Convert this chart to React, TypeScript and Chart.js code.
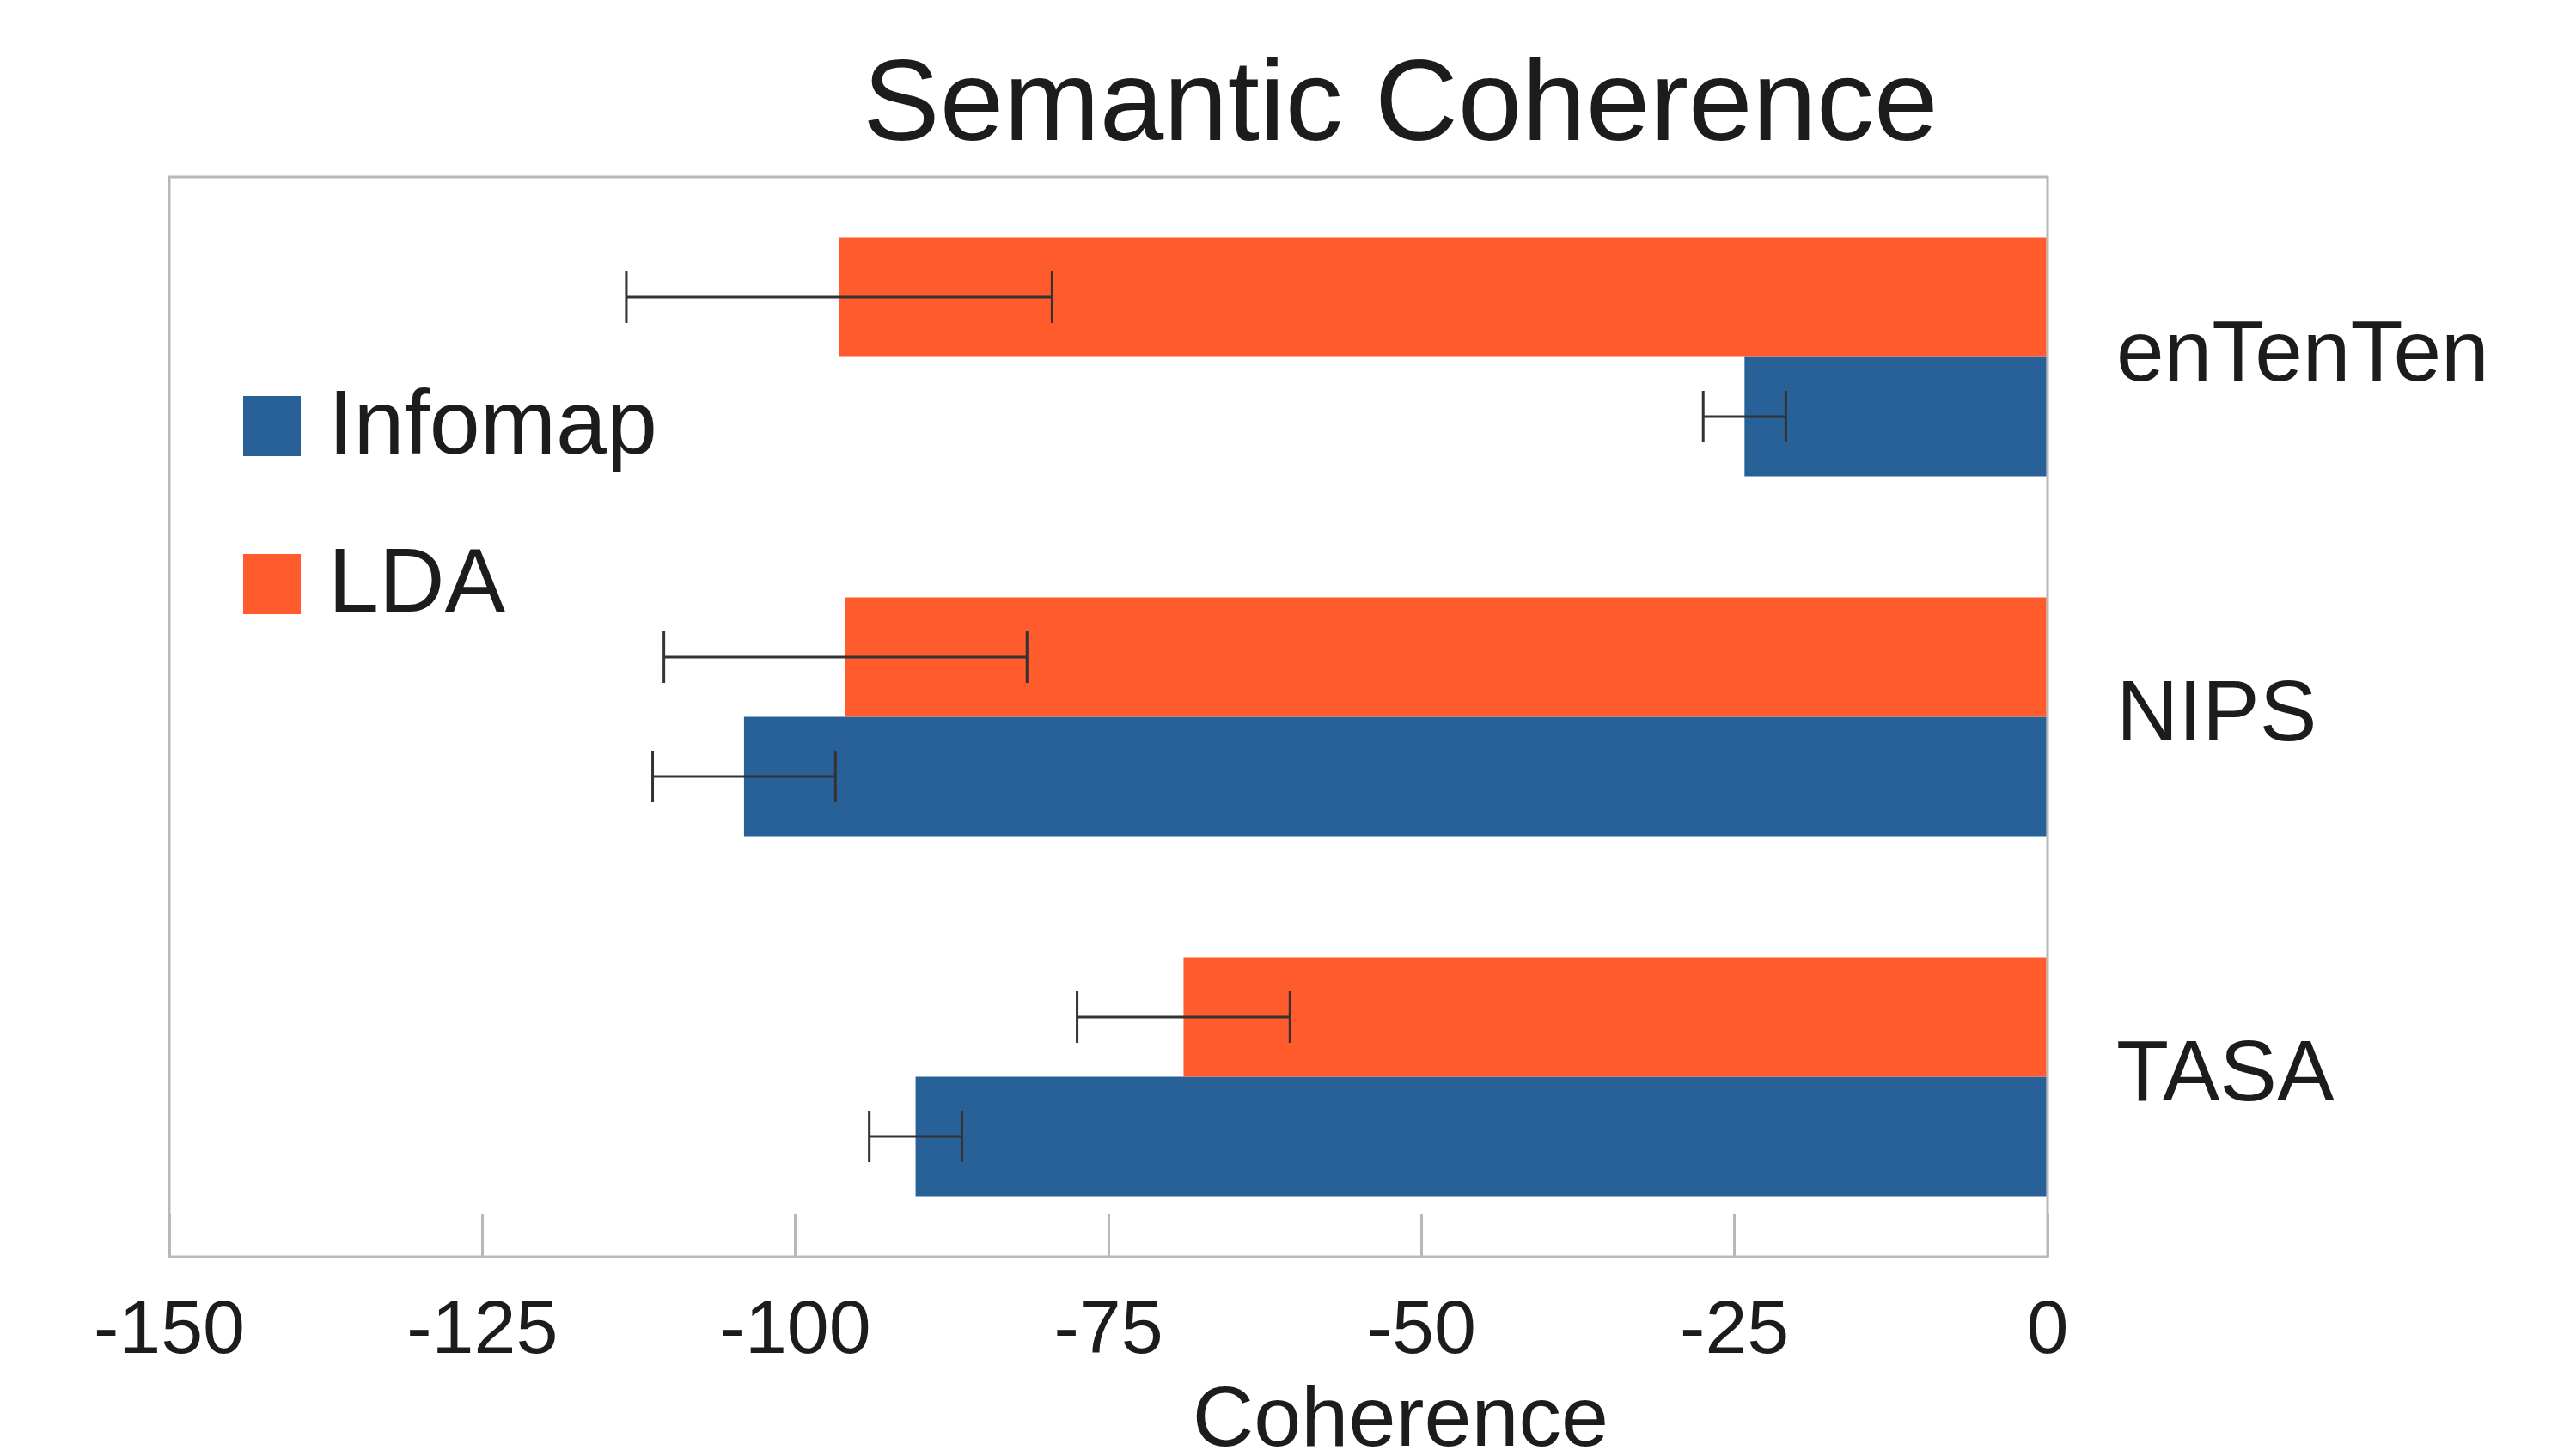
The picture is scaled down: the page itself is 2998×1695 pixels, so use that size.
import React, { useEffect, useRef } from "react";
import { Chart, registerables } from "chart.js";

Chart.register(...registerables);

const categories = ["enTenTen", "NIPS", "TASA"];
const ldaValues = [-96.5, -96.0, -69.0];
const ldaErrors = [17.0, 14.5, 8.5];
const infomapValues = [-24.2, -104.1, -90.4];
const infomapErrors = [3.3, 7.3, 3.7];
const xTicks = [-150, -125, -100, -75, -50, -25, 0];
const titleText = "Semantic Coherence";
const xAxisTitle = "Coherence";
const legendOrder = ["Infomap", "LDA"];

const ORANGE = "#ff5b2c";
const BLUE = "#276198";
const FRAME = "#b8b8b8";
const TEXT = "#1c1c1c";
const FONT = "'Liberation Sans', Arial, sans-serif";

const framePlugin = {
  id: "frame",
  beforeDatasetsDraw(chart: any) {
    const { ctx, chartArea } = chart;
    ctx.save();
    ctx.strokeStyle = FRAME;
    ctx.lineWidth = 3;
    ctx.strokeRect(chartArea.left, chartArea.top, chartArea.right - chartArea.left, chartArea.bottom - chartArea.top);
    ctx.restore();
  },
};

const errorBarPlugin = {
  id: "errorBars",
  afterDatasetsDraw(chart: any) {
    const { ctx } = chart;
    const xScale = chart.scales.x;
    ctx.save();
    ctx.strokeStyle = "#333333";
    ctx.lineWidth = 3;
    chart.data.datasets.forEach((ds: any, di: number) => {
      const meta = chart.getDatasetMeta(di);
      meta.data.forEach((bar: any, i: number) => {
        const v = ds.data[i];
        const e = ds.errors[i];
        const x1 = xScale.getPixelForValue(v - e);
        const x2 = xScale.getPixelForValue(v + e);
        const y = bar.y;
        const cap = 30;
        ctx.beginPath();
        ctx.moveTo(x1, y);
        ctx.lineTo(x2, y);
        ctx.moveTo(x1, y - cap);
        ctx.lineTo(x1, y + cap);
        ctx.moveTo(x2, y - cap);
        ctx.lineTo(x2, y + cap);
        ctx.stroke();
      });
    });
    ctx.restore();
  },
};

const textPlugin = {
  id: "texts",
  afterDraw(chart: any) {
    const { ctx, chartArea } = chart;
    const w = chartArea.right - chartArea.left;
    const cx = chartArea.left + w * 0.6555;
    ctx.save();
    ctx.fillStyle = TEXT;
    ctx.textAlign = "center";
    ctx.textBaseline = "alphabetic";
    ctx.font = `134px ${FONT}`;
    ctx.fillText(titleText, cx, 155);
    ctx.font = `99px ${FONT}`;
    ctx.fillText(xAxisTitle, cx, 1675);

    // legend
    ctx.textAlign = "left";
    ctx.textBaseline = "middle";
    ctx.font = `106px ${FONT}`;
    legendOrder.forEach((name, k) => {
      const ds = chart.data.datasets.find((d: any) => d.label === name);
      const boxX = chartArea.left + 86;
      const boxY = chartArea.top + 255 + k * 184;
      ctx.fillStyle = ds.backgroundColor;
      ctx.fillRect(boxX, boxY, 67, 70);
      ctx.fillStyle = TEXT;
      ctx.fillText(name, boxX + 99, boxY + 38);
    });
    ctx.restore();
  },
};

export default function App() {
  const ref = useRef<HTMLCanvasElement>(null);
  useEffect(() => {
    const chart = new Chart(ref.current as HTMLCanvasElement, {
      type: "bar",
      data: {
        labels: categories,
        datasets: [
          { label: "LDA", data: ldaValues, errors: ldaErrors, backgroundColor: ORANGE, borderWidth: 0 } as any,
          { label: "Infomap", data: infomapValues, errors: infomapErrors, backgroundColor: BLUE, borderWidth: 0 } as any,
        ],
      },
      options: {
        indexAxis: "y",
        responsive: false,
        animation: false,
        events: [],
        layout: { padding: { left: 189, top: 198, right: 87, bottom: 0 } },
        datasets: { bar: { categoryPercentage: 0.664, barPercentage: 1.0 } },
        plugins: { legend: { display: false }, title: { display: false }, tooltip: { enabled: false } },
        scales: {
          x: {
            type: "linear",
            position: "bottom",
            min: -150,
            max: 0,
            afterBuildTicks: (s: any) => {
              s.ticks = xTicks.map((v) => ({ value: v }));
            },
            afterFit: (s: any) => {
              s.height = 224;
            },
            grid: { display: true, drawOnChartArea: false, drawTicks: true, tickLength: -50, tickColor: FRAME, lineWidth: 3 },
            border: { display: false },
            ticks: { color: TEXT, font: { family: FONT, size: 88 }, padding: 85, maxRotation: 0 },
          },
          y: {
            type: "category",
            position: "right",
            afterFit: (s: any) => {
              s.width = 520;
            },
            grid: { display: false },
            border: { display: false },
            ticks: { color: TEXT, font: { family: FONT, size: 100 }, padding: 72 },
          },
        },
      },
      plugins: [framePlugin, errorBarPlugin, textPlugin],
    });
    return () => chart.destroy();
  }, []);
  return <canvas ref={ref} width={2982} height={1679} style={{ display: "block" }} />;
}
